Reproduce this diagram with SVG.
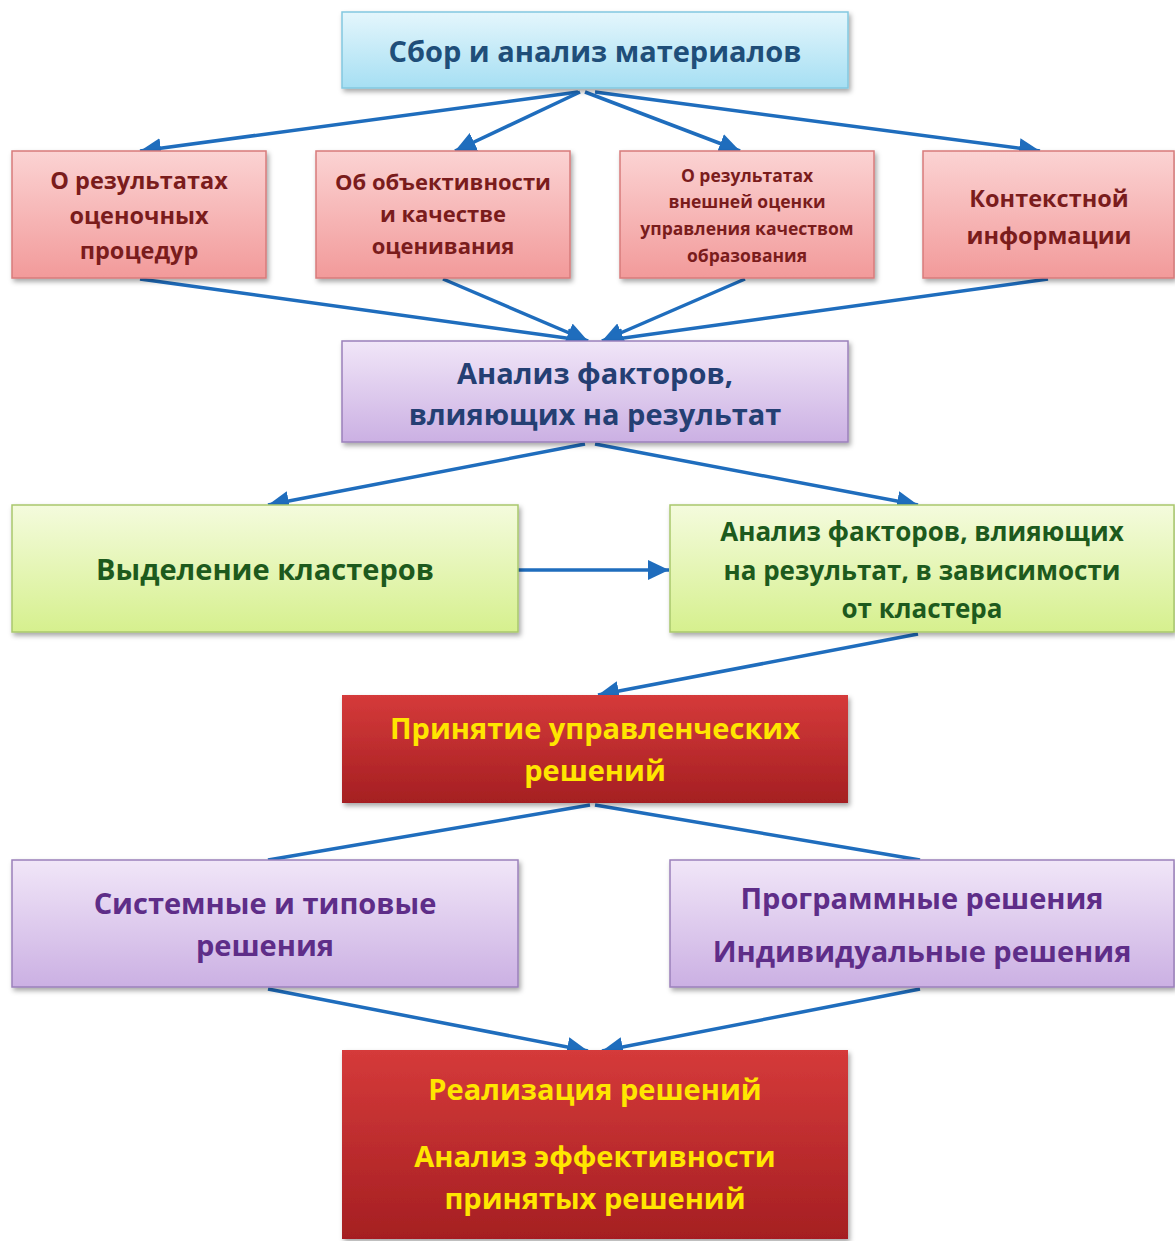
<svg xmlns="http://www.w3.org/2000/svg" width="1175" height="1241" viewBox="0 0 1175 1241">
<defs>
<linearGradient id="gCyan" x1="0" y1="0" x2="0" y2="1"><stop offset="0" stop-color="#e4f6fc"/><stop offset="1" stop-color="#a6dff3"/></linearGradient>
<linearGradient id="gPink" x1="0" y1="0" x2="0" y2="1"><stop offset="0" stop-color="#fbd3d3"/><stop offset="1" stop-color="#f29a9a"/></linearGradient>
<linearGradient id="gLav" x1="0" y1="0" x2="0" y2="1"><stop offset="0" stop-color="#f1e6f8"/><stop offset="1" stop-color="#cbb0e3"/></linearGradient>
<linearGradient id="gGreen" x1="0" y1="0" x2="0" y2="1"><stop offset="0" stop-color="#f4fbdd"/><stop offset="1" stop-color="#d6f08e"/></linearGradient>
<linearGradient id="gRed" x1="0" y1="0" x2="0" y2="1"><stop offset="0" stop-color="#d53a3a"/><stop offset="1" stop-color="#a51f22"/></linearGradient>
<filter id="sh" x="-5%" y="-5%" width="112%" height="118%"><feDropShadow dx="2" dy="3" stdDeviation="2.5" flood-color="#000" flood-opacity="0.35"/></filter>
<marker id="ah" markerUnits="userSpaceOnUse" markerWidth="22" markerHeight="20" refX="21" refY="10" orient="auto"><path d="M0,0 L21,10 L0,20 Z" fill="#1f6dbd"/></marker>
</defs>
<style>
.t{font-family:"Open Sans","Noto Sans","DejaVu Sans",sans-serif;font-weight:700;text-anchor:middle}
.c{fill:#1f4e79;font-size:29px}
.p{fill:#7a1c1c;font-size:22px}
.ps{fill:#7a1c1c;font-size:17.5px}
.lv{fill:#243f73;font-size:29px}
.gr{fill:#1d5a1d;font-size:26px}
.y{fill:#ffe600;font-size:29px}
.pu{fill:#5e2d88;font-size:29px}
.ln{stroke:#1f6dbd;stroke-width:3.5;fill:none}
</style>
<g id="connectors">
<line class="ln" x1="578" y1="92" x2="140" y2="151" marker-end="url(#ah)"/>
<line class="ln" x1="580" y1="92" x2="455" y2="151" marker-end="url(#ah)"/>
<line class="ln" x1="585" y1="92" x2="740" y2="151" marker-end="url(#ah)"/>
<line class="ln" x1="595" y1="92" x2="1040" y2="151" marker-end="url(#ah)"/>
<line class="ln" x1="140" y1="279" x2="588" y2="341" marker-end="url(#ah)"/>
<line class="ln" x1="443" y1="279" x2="588" y2="341" marker-end="url(#ah)"/>
<line class="ln" x1="745" y1="279" x2="602" y2="341" marker-end="url(#ah)"/>
<line class="ln" x1="1048" y1="279" x2="602" y2="341" marker-end="url(#ah)"/>
<line class="ln" x1="585" y1="444" x2="268" y2="505" marker-end="url(#ah)"/>
<line class="ln" x1="595" y1="444" x2="918" y2="505" marker-end="url(#ah)"/>
<line class="ln" x1="518" y1="570" x2="669" y2="570" marker-end="url(#ah)"/>
<line class="ln" x1="918" y1="634" x2="598" y2="695" marker-end="url(#ah)"/>
<line class="ln" x1="590" y1="805" x2="268" y2="860"/>
<line class="ln" x1="595" y1="805" x2="920" y2="860"/>
<line class="ln" x1="268" y1="989" x2="588" y2="1051" marker-end="url(#ah)"/>
<line class="ln" x1="920" y1="989" x2="602" y2="1051" marker-end="url(#ah)"/>
</g>
<g id="n-sbor">
<rect x="342" y="12" width="506" height="76" fill="url(#gCyan)" stroke="#82c8e0" stroke-width="1.5" filter="url(#sh)"/>
<text class="t c" x="595" y="62">Сбор и анализ материалов</text>
</g>
<g id="n-res">
<rect x="12" y="151" width="254" height="127" fill="url(#gPink)" stroke="#d77b7b" stroke-width="1.5" filter="url(#sh)"/>
<text class="t p" x="139" y="189" style="font-size:23.5px">О результатах</text>
<text class="t p" x="139" y="224" style="font-size:23.5px">оценочных</text>
<text class="t p" x="139" y="259" style="font-size:23.5px">процедур</text>
</g>
<g id="n-obj">
<rect x="316" y="151" width="254" height="127" fill="url(#gPink)" stroke="#d77b7b" stroke-width="1.5" filter="url(#sh)"/>
<text class="t p" x="443" y="190">Об объективности</text>
<text class="t p" x="443" y="222">и качестве</text>
<text class="t p" x="443" y="254">оценивания</text>
</g>
<g id="n-vnesh">
<rect x="620" y="151" width="254" height="127" fill="url(#gPink)" stroke="#d77b7b" stroke-width="1.5" filter="url(#sh)"/>
<text class="t ps" x="747" y="182">О результатах</text>
<text class="t ps" x="747" y="208">внешней оценки</text>
<text class="t ps" x="747" y="235">управления качеством</text>
<text class="t ps" x="747" y="262">образования</text>
</g>
<g id="n-kont">
<rect x="923" y="151" width="251" height="127" fill="url(#gPink)" stroke="#d77b7b" stroke-width="1.5" filter="url(#sh)"/>
<text class="t p" x="1049" y="207" style="font-size:23.5px">Контекстной</text>
<text class="t p" x="1049" y="244" style="font-size:23.5px">информации</text>
</g>
<g id="n-analiz">
<rect x="342" y="341" width="506" height="101" fill="url(#gLav)" stroke="#9b80bb" stroke-width="1.5" filter="url(#sh)"/>
<text class="t lv" x="595" y="384">Анализ факторов,</text>
<text class="t lv" x="595" y="425">влияющих на результат</text>
</g>
<g id="n-klast">
<rect x="12" y="505" width="506" height="127" fill="url(#gGreen)" stroke="#a9c86c" stroke-width="1.5" filter="url(#sh)"/>
<text class="t gr" x="265" y="580" style="font-size:29px">Выделение кластеров</text>
</g>
<g id="n-analiz-kl">
<rect x="670" y="505" width="504" height="127" fill="url(#gGreen)" stroke="#a9c86c" stroke-width="1.5" filter="url(#sh)"/>
<text class="t gr" x="922" y="541">Анализ факторов, влияющих</text>
<text class="t gr" x="922" y="580">на результат, в зависимости</text>
<text class="t gr" x="922" y="618">от кластера</text>
</g>
<g id="n-prinyatie">
<rect x="342" y="695" width="506" height="108" fill="url(#gRed)" filter="url(#sh)"/>
<text class="t y" x="595" y="739">Принятие управленческих</text>
<text class="t y" x="595" y="781">решений</text>
</g>
<g id="n-sist">
<rect x="12" y="860" width="506" height="127" fill="url(#gLav)" stroke="#9b80bb" stroke-width="1.5" filter="url(#sh)"/>
<text class="t pu" x="265" y="914">Системные и типовые</text>
<text class="t pu" x="265" y="956">решения</text>
</g>
<g id="n-prog">
<rect x="670" y="860" width="504" height="127" fill="url(#gLav)" stroke="#9b80bb" stroke-width="1.5" filter="url(#sh)"/>
<text class="t pu" x="922" y="909">Программные решения</text>
<text class="t pu" x="922" y="962">Индивидуальные решения</text>
</g>
<g id="n-real">
<rect x="342" y="1050" width="506" height="189" fill="url(#gRed)" filter="url(#sh)"/>
<text class="t y" x="595" y="1100">Реализация решений</text>
<text class="t y" x="595" y="1167">Анализ эффективности</text>
<text class="t y" x="595" y="1209">принятых решений</text>
</g>
</svg>
